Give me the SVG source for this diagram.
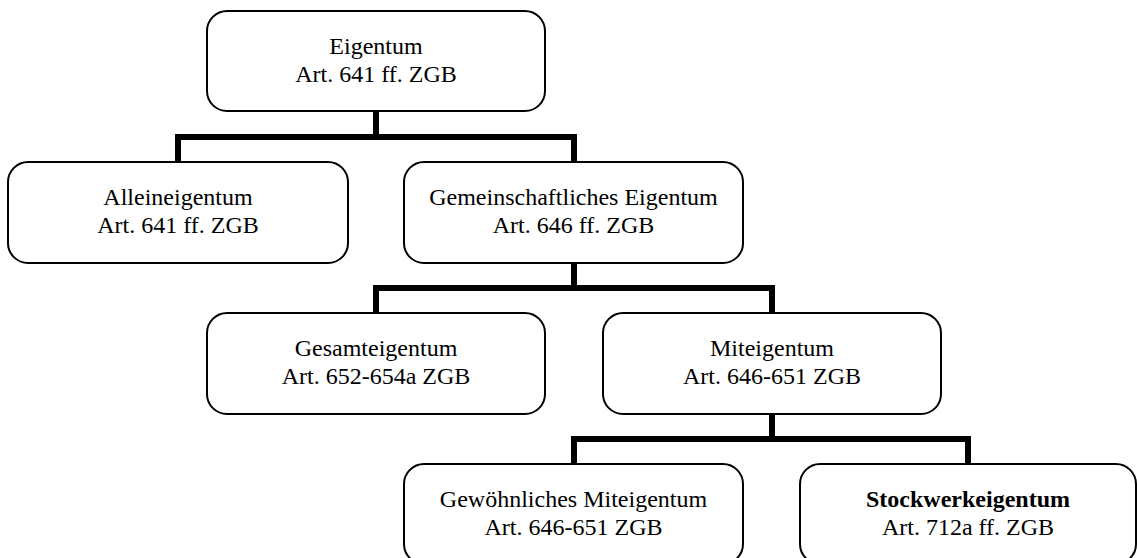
<svg xmlns="http://www.w3.org/2000/svg" width="1137" height="558" viewBox="0 0 1137 558">
<style>
.box{fill:#fff;stroke:#000;stroke-width:2}
.t{font-family:"Liberation Serif","Times New Roman",serif;font-size:24px;fill:#000;text-anchor:middle}
.b{font-weight:bold}
.c{fill:none;stroke:#000;stroke-width:6;stroke-linejoin:miter;stroke-linecap:square}
</style>
<rect width="1137" height="558" fill="#fff"/>
<g id="connectors">
<path class="c" d="M376,112 V137 M178,162 V137 H574 V162"/>
<path class="c" d="M574,264 V288 M376,313 V288 H772 V313"/>
<path class="c" d="M772,415 V439 M574,464 V439 H968 V464"/>
</g>
<g id="eigentum">
<rect class="box" x="207" y="11" width="338" height="100" rx="20"/>
<text class="t" x="376" y="54">Eigentum</text>
<text class="t" x="376" y="82">Art. 641 ff. ZGB</text>
</g>
<g id="alleineigentum">
<rect class="box" x="8" y="162" width="340" height="101" rx="20"/>
<text class="t" x="178" y="205">Alleineigentum</text>
<text class="t" x="178" y="233">Art. 641 ff. ZGB</text>
</g>
<g id="gemeinschaftliches">
<rect class="box" x="404" y="162" width="339" height="101" rx="20"/>
<text class="t" x="573.5" y="205">Gemeinschaftliches Eigentum</text>
<text class="t" x="573.5" y="233">Art. 646 ff. ZGB</text>
</g>
<g id="gesamteigentum">
<rect class="box" x="207" y="313" width="338" height="101" rx="20"/>
<text class="t" x="376" y="356">Gesamteigentum</text>
<text class="t" x="376" y="384">Art. 652-654a ZGB</text>
</g>
<g id="miteigentum">
<rect class="box" x="603" y="313" width="338" height="101" rx="20"/>
<text class="t" x="772" y="356">Miteigentum</text>
<text class="t" x="772" y="384">Art. 646-651 ZGB</text>
</g>
<g id="gewoehnliches">
<rect class="box" x="404" y="464" width="339" height="100" rx="20"/>
<text class="t" x="573.5" y="507">Gewöhnliches Miteigentum</text>
<text class="t" x="573.5" y="535">Art. 646-651 ZGB</text>
</g>
<g id="stockwerkeigentum">
<rect class="box" x="800" y="464" width="336" height="100" rx="20"/>
<text class="t b" x="968" y="507">Stockwerkeigentum</text>
<text class="t" x="968" y="535">Art. 712a ff. ZGB</text>
</g>
</svg>
